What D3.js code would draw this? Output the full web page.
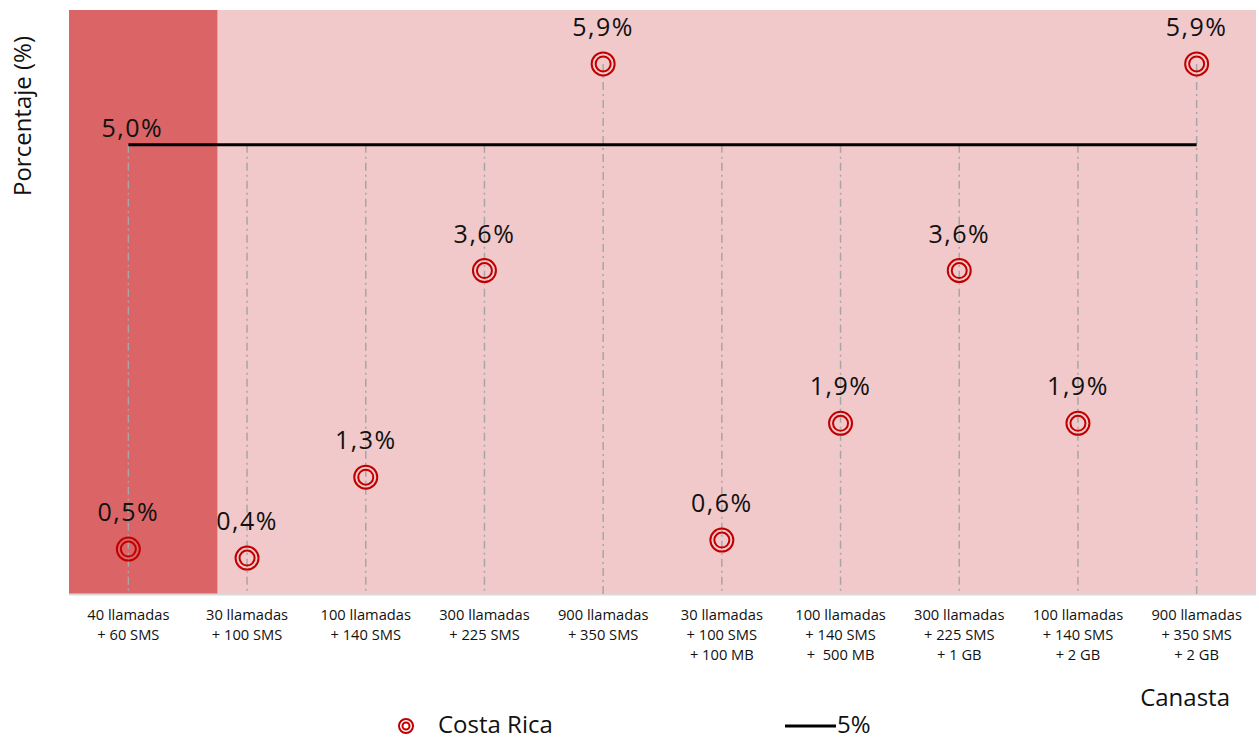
<!DOCTYPE html>
<html>
<head>
<meta charset="utf-8">
<script src="https://cdn.jsdelivr.net/npm/d3@7"></script>
<style>
  body { margin: 0; background: #fff; }
  text { font-family: 'Open Sans', Lato, sans-serif; fill: #111; }
</style>
</head>
<body>
<div class="main"></div>
<script>
var categories = [
    ['40 llamadas', '+ 60 SMS'],
    ['30 llamadas', '+ 100 SMS'],
    ['100 llamadas', '+ 140 SMS'],
    ['300 llamadas', '+ 225 SMS'],
    ['900 llamadas', '+ 350 SMS'],
    ['30 llamadas', '+ 100 SMS', '+ 100 MB'],
    ['100 llamadas', '+ 140 SMS', '+  500 MB'],
    ['300 llamadas', '+ 225 SMS', '+ 1 GB'],
    ['100 llamadas', '+ 140 SMS', '+ 2 GB'],
    ['900 llamadas', '+ 350 SMS', '+ 2 GB']
];
var costaRica = [0.5, 0.4, 1.3, 3.6, 5.9, 0.6, 1.9, 3.6, 1.9, 5.9];
var threshold = 5.0;

var options = {
    'width': 1259,
    'height': 740,
    'left': 69,
    'right': 1256,
    'top': 10,
    'bottom': 594
};

var fmt = function (v) {
    return d3.format('.1f')(v).replace('.', ',') + '%';
};

var svg = d3.select('.main')
    .append('svg')
    .attr('width', options.width)
    .attr('height', options.height);

var x = d3.scaleBand()
    .domain(d3.range(categories.length))
    .range([options.left, options.right]);

var y = d3.scaleLinear()
    .domain([0, 6.5])
    .range([options.bottom, options.top]);

var cx = function (i) {
    return x(i) + x.bandwidth() / 2;
};

// background
svg.append('rect')
    .attr('x', options.left)
    .attr('y', options.top)
    .attr('width', options.right - options.left)
    .attr('height', options.bottom - options.top)
    .style('fill', '#f2c9ca');

// first basket highlighted
svg.append('rect')
    .attr('x', options.left)
    .attr('y', options.top)
    .attr('width', x.bandwidth() * 1.25)
    .attr('height', options.bottom - options.top)
    .style('fill', '#db6466');

svg.append('line')
    .attr('x1', options.left)
    .attr('x2', options.right)
    .attr('y1', options.bottom + 0.5)
    .attr('y2', options.bottom + 0.5)
    .style('stroke', '#d9d9d9')
    .style('stroke-width', '2px');

// drop lines
svg.selectAll('.drop')
    .data(costaRica)
    .enter()
    .append('line')
    .attr('class', 'drop')
    .attr('x1', function (d, i) { return cx(i); })
    .attr('x2', function (d, i) { return cx(i); })
    .attr('y1', function (d) { return y(Math.max(d, threshold)); })
    .attr('y2', y(0))
    .style('stroke', '#a6a6a6')
    .style('stroke-width', '1.5px')
    .style('stroke-dasharray', '8,4,2,4');

// 5% line
svg.append('line')
    .attr('x1', cx(0))
    .attr('x2', cx(categories.length - 1))
    .attr('y1', y(threshold))
    .attr('y2', y(threshold))
    .style('stroke', '#000')
    .style('stroke-width', '3px');

svg.append('text')
    .text(fmt(threshold))
    .attr('x', cx(0) + 4)
    .attr('y', y(threshold) - 8)
    .attr('text-anchor', 'middle')
    .style('font-size', '25px')
    .style('letter-spacing', '1.5px');

// markers
var pts = svg.selectAll('.pt')
    .data(costaRica)
    .enter()
    .append('g')
    .attr('class', 'pt')
    .attr('transform', function (d, i) {
        return 'translate(' + [cx(i), y(d)] + ')';
    });

pts.append('circle')
    .attr('r', 11.5)
    .style('fill', 'none')
    .style('stroke', '#c00000')
    .style('stroke-width', '2px');

pts.append('circle')
    .attr('r', 7.5)
    .style('fill', 'none')
    .style('stroke', '#c00000')
    .style('stroke-width', '2px');

pts.append('text')
    .text(function (d) { return fmt(d); })
    .attr('y', -28)
    .attr('text-anchor', 'middle')
    .style('font-size', '25px')
    .style('letter-spacing', '1.5px');

// x labels
var xl = svg.selectAll('.xlab')
    .data(categories)
    .enter()
    .append('text')
    .attr('class', 'xlab')
    .attr('x', function (d, i) { return cx(i); })
    .attr('y', 620)
    .attr('text-anchor', 'middle')
    .style('font-size', '14.7px');

xl.selectAll('tspan')
    .data(function (d) { return d; })
    .enter()
    .append('tspan')
    .attr('x', function () { return d3.select(this.parentNode).attr('x'); })
    .attr('dy', function (d, i) { return i === 0 ? 0 : 20; })
    .style('white-space', 'pre')
    .text(function (d) { return d; });

// axis titles
svg.append('text')
    .text('Porcentaje (%)')
    .attr('transform', 'translate(31,116) rotate(-90)')
    .attr('text-anchor', 'middle')
    .style('font-size', '24px');

svg.append('text')
    .text('Canasta')
    .attr('x', 1230)
    .attr('y', 706)
    .attr('text-anchor', 'end')
    .style('font-size', '24px');

// legend
var lg = svg.append('g').attr('transform', 'translate(406,726)');
lg.append('circle').attr('r', 7).style('fill', 'none').style('stroke', '#c00000').style('stroke-width', '2px');
lg.append('circle').attr('r', 3.5).style('fill', 'none').style('stroke', '#c00000').style('stroke-width', '2px');
lg.append('text').text('Costa Rica').attr('x', 32).attr('y', 7).style('font-size', '24px');

svg.append('line')
    .attr('x1', 785).attr('x2', 836)
    .attr('y1', 726).attr('y2', 726)
    .style('stroke', '#000').style('stroke-width', '3px');
svg.append('text').text('5%').attr('x', 837).attr('y', 733).style('font-size', '24px');
</script>
</body>
</html>
